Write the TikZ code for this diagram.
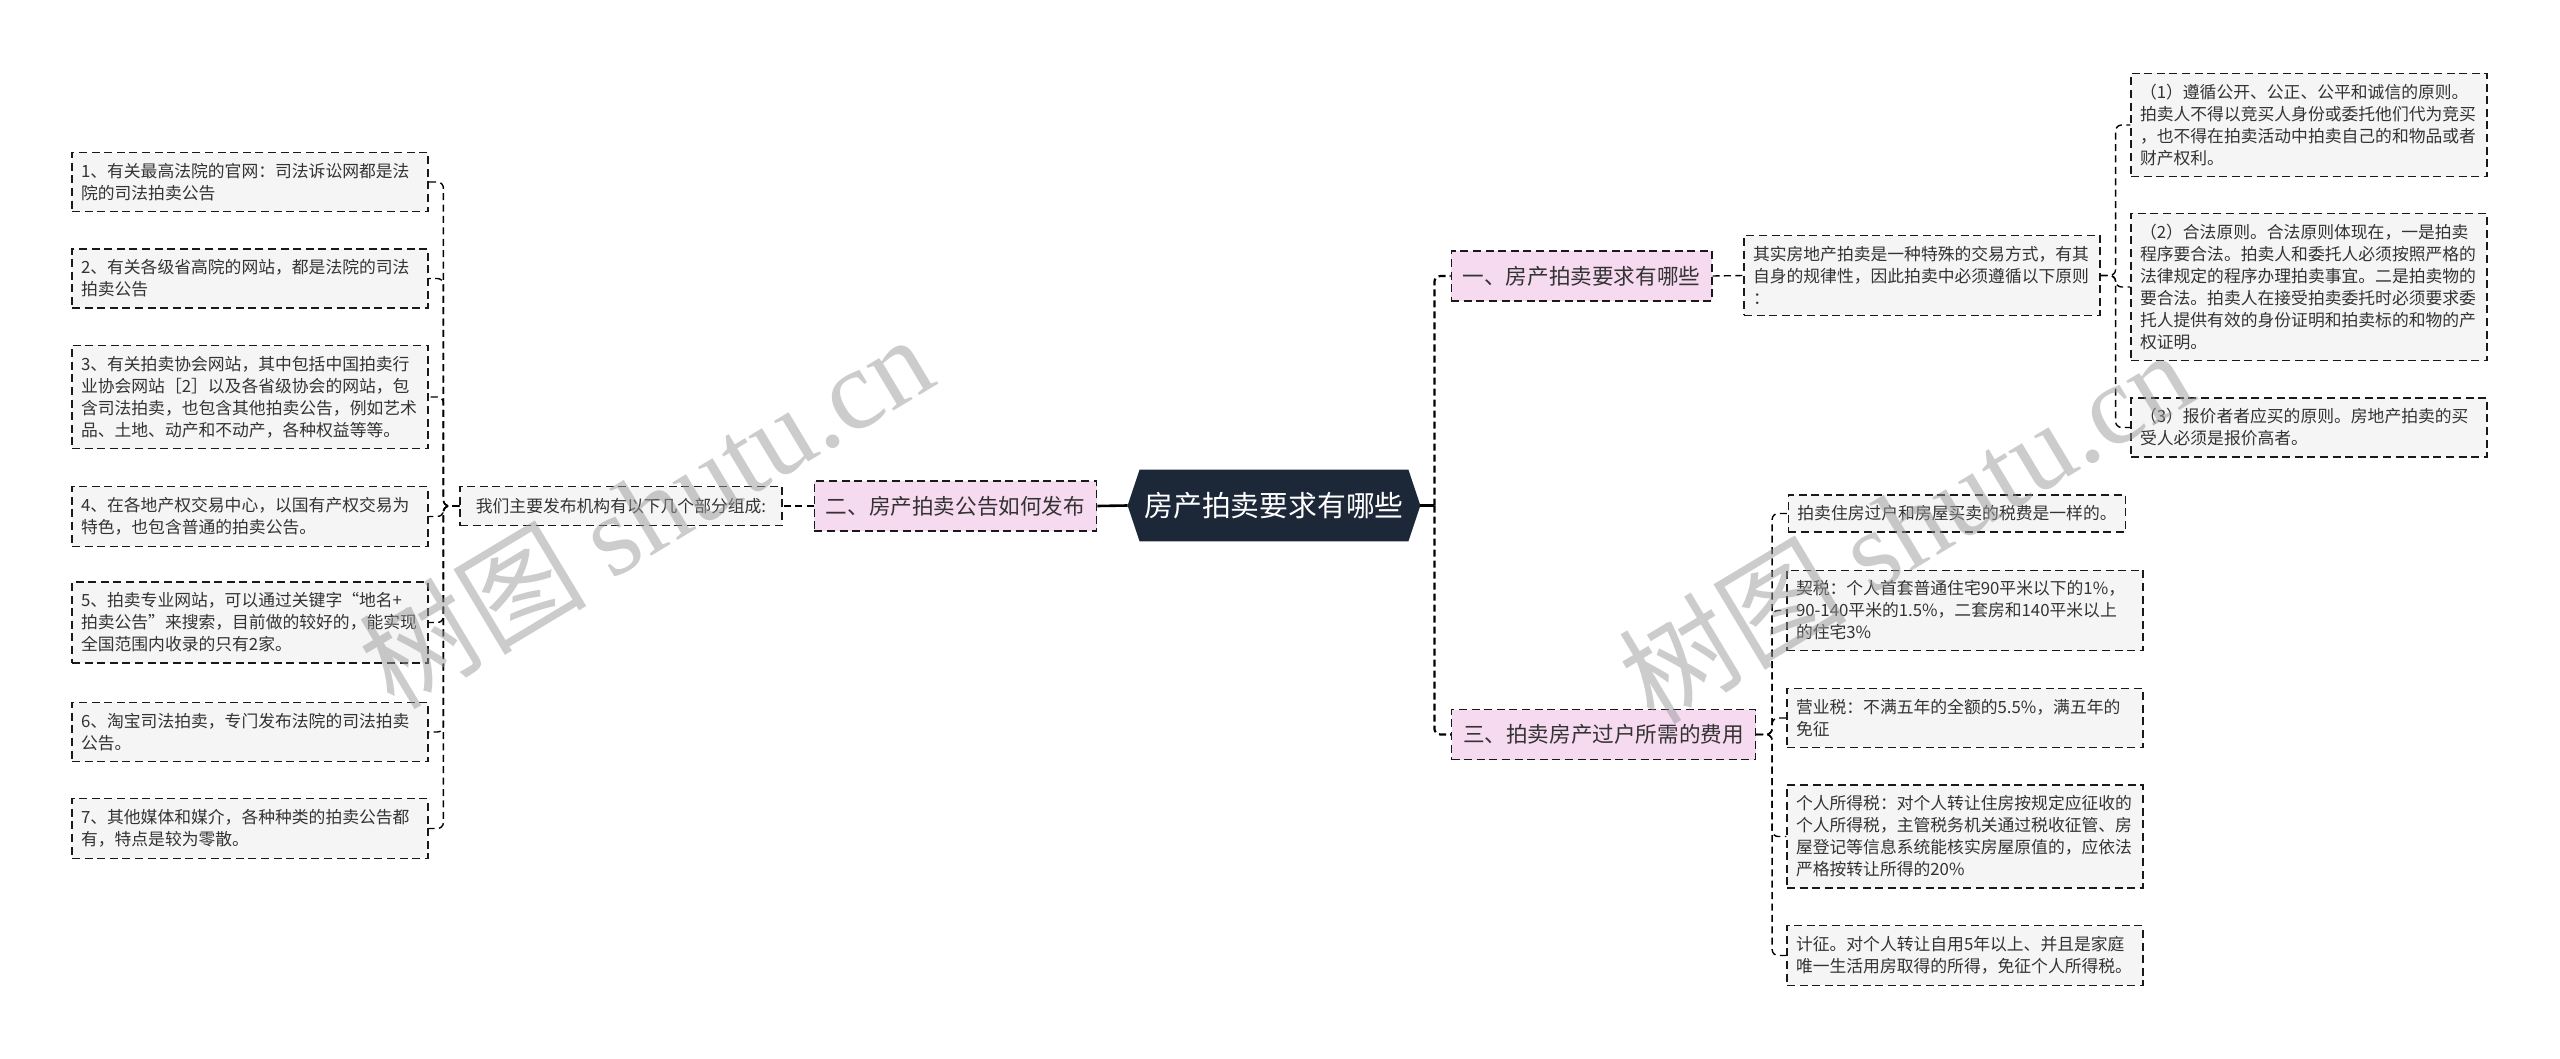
\documentclass[tikz,border=0pt]{standalone}
\usepackage{fontspec}
\setmainfont{Noto Sans CJK SC}
\newfontfamily\wmlatin{Liberation Serif}
\usetikzlibrary{calc}
\pgfdeclarelayer{background}
\pgfsetlayers{background,main}
\definecolor{leaffill}{HTML}{F5F5F5}
\definecolor{pinkfill}{HTML}{F6DAF0}
\definecolor{hexfill}{HTML}{1C2738}
\definecolor{txt}{HTML}{333333}
\tikzset{
  box/.style={draw=black!90, dash pattern=on 4pt off 2.3pt, line width=0.6pt, text=txt, inner ysep=5.3pt, inner xsep=4.5pt, align=left},
  leaf/.style={box, fill=leaffill, font=\fontsize{8.4}{11}\selectfont, text width=169pt},
  leafn/.style={box, fill=leaffill, font=\fontsize{8.4}{11}\selectfont},
  branch/.style={box, fill=pinkfill, font=\fontsize{10.8}{13}\selectfont, minimum height=25pt, inner xsep=5.8pt, inner ysep=0pt},
  conn/.style={draw=black, line width=0.7pt, dash pattern=on 3.5pt off 2.2pt, rounded corners=3pt},
  connthick/.style={draw=black, line width=1.1pt, dash pattern=on 3.5pt off 2pt, rounded corners=3pt},
  mainline/.style={draw=black, line width=1.3pt},
  wm/.style={text=black!40, opacity=0.5, rotate=31, inner sep=0pt, font=\fontsize{57}{60}\selectfont}
}
\begin{document}
\begin{tikzpicture}[x=0.5pt,y=-0.5pt]
\useasboundingbox (0,0) rectangle (2560,1059);

% central node
\node[font=\fontsize{14.4}{16}\selectfont, text=white, minimum width=134pt, minimum height=35.5pt, inner sep=0pt] (H) at (1274,505.5) {房产拍卖要求有哪些};
\coordinate (Hl) at ($(H.west)+(-6pt,0)$);
\coordinate (Hr) at ($(H.east)+(6pt,0)$);
\begin{pgfonlayer}{background}
\fill[hexfill] (Hl) -- (H.north west) -- (H.north east) -- (Hr) -- (H.south east) -- (H.south west) -- cycle;
\end{pgfonlayer}

% branches
\node[branch] (B2) at (955.5,506) {二、房产拍卖公告如何发布};
\node[branch] (B1) at (1581.5,276) {一、房产拍卖要求有哪些};
\node[branch] (B3) at (1603.5,734.5) {三、拍卖房产过户所需的费用};

% left side
\node[leafn, minimum width=161pt, minimum height=19.5pt] (M) at (621,506) {我们主要发布机构有以下几个部分组成:};
\node[leaf] (L1) at (250,182) {1、有关最高法院的官网：司法诉讼网都是法\\院的司法拍卖公告};
\node[leaf] (L2) at (250,278.5) {2、有关各级省高院的网站，都是法院的司法\\拍卖公告};
\node[leaf] (L3) at (250,397) {3、有关拍卖协会网站，其中包括中国拍卖行\\业协会网站［2］以及各省级协会的网站，包\\含司法拍卖，也包含其他拍卖公告，例如艺术\\品、土地、动产和不动产，各种权益等等。};
\node[leaf] (L4) at (250,516.5) {4、在各地产权交易中心，以国有产权交易为\\特色，也包含普通的拍卖公告。};
\node[leaf] (L5) at (250,622.5) {5、拍卖专业网站，可以通过关键字“地名+\\拍卖公告”来搜索，目前做的较好的，能实现\\全国范围内收录的只有2家。};
\node[leaf] (L6) at (250,732) {6、淘宝司法拍卖，专门发布法院的司法拍卖\\公告。};
\node[leaf] (L7) at (250,828.5) {7、其他媒体和媒介，各种种类的拍卖公告都\\有，特点是较为零散。};

% right upper
\node[leaf] (P) at (1922,275.5) {其实房地产拍卖是一种特殊的交易方式，有其\\自身的规律性，因此拍卖中必须遵循以下原则\\：};
\node[leaf] (R1) at (2309,125) {（1）遵循公开、公正、公平和诚信的原则。\\拍卖人不得以竞买人身份或委托他们代为竞买\\，也不得在拍卖活动中拍卖自己的和物品或者\\财产权利。};
\node[leaf] (R2) at (2309,287) {（2）合法原则。合法原则体现在，一是拍卖\\程序要合法。拍卖人和委托人必须按照严格的\\法律规定的程序办理拍卖事宜。二是拍卖物的\\要合法。拍卖人在接受拍卖委托时必须要求委\\托人提供有效的身份证明和拍卖标的和物的产\\权证明。};
\node[leaf] (R3) at (2309,427.5) {（3）报价者者应买的原则。房地产拍卖的买\\受人必须是报价高者。};

% right lower
\node[leafn] (Ta) at (1957,513.5) {拍卖住房过户和房屋买卖的税费是一样的。};
\node[leaf] (Tb) at (1965,610.5) {契税：个人首套普通住宅90平米以下的1\%，\\90-140平米的1.5\%，二套房和140平米以上\\的住宅3\%};
\node[leaf] (Tc) at (1965,718) {营业税：不满五年的全额的5.5\%，满五年的\\免征};
\node[leaf] (Td) at (1965,836.5) {个人所得税：对个人转让住房按规定应征收的\\个人所得税，主管税务机关通过税收征管、房\\屋登记等信息系统能核实房屋原值的，应依法\\严格按转让所得的20\%};
\node[leaf] (Te) at (1965,955.5) {计征。对个人转让自用5年以上、并且是家庭\\唯一生活用房取得的所得，免征个人所得税。};

% connectors
\draw[mainline] (B2.east) -- (Hl);
\draw[mainline] (Hr) -- ++(14,0) coordinate (J1);
\draw[connthick] (J1) |- (B1.west);
\draw[connthick] (J1) |- (B3.west);

\draw[conn] (B2.west) -- (M.east);
\foreach \n in {L1,L2,L3,L4,L5,L6,L7}{
  \draw[conn] (M.west) -- ++(-16,0) |- (\n.east);
}
\draw[conn] (B1.east) -- (P.west);
\foreach \n in {R1,R2,R3}{
  \draw[conn] (P.east) -- ++(15,0) |- (\n.west);
}
\foreach \n in {Ta,Tb,Tc,Td,Te}{
  \draw[conn] (B3.east) -- ++(16,0) |- (\n.west);
}

% watermarks
\node[wm] (W1) at (645,510) {树图 {\wmlatin shutu.cn}};
\node[wm] (W2) at (1905,525) {树图 {\wmlatin shutu.cn}};
\end{tikzpicture}
\end{document}
